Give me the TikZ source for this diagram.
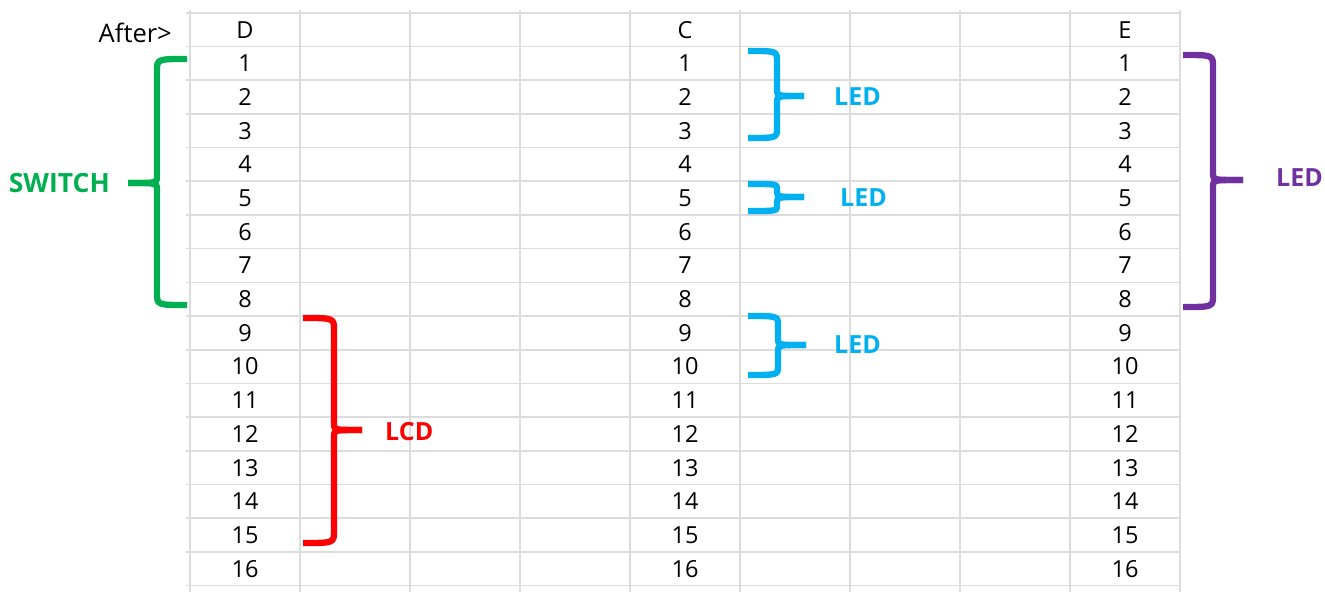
\documentclass[tikz,border=0pt]{standalone}
\usepackage{fontspec}
\setmainfont{Open Sans}
\definecolor{gridgray}{RGB}{220,220,220}
\definecolor{swgreen}{RGB}{0,176,80}
\definecolor{lcdred}{RGB}{255,0,0}
\definecolor{ledcyan}{RGB}{0,176,240}
\definecolor{ledpurple}{RGB}{112,48,160}
\newcommand\bracepath[8]{%
  % #1 colour, #2 end x, #3 top y, #4 bottom y, #5 spine x, #6 tip x, #7 mid y, #8 corner r
  \draw[bracestyle,#1] (#2,#3) .. controls (#5,#3) .. (#5,#3+#8) -- (#5,#7-6) .. controls (#5,#7) .. (#6,#7);
  \draw[bracestyle,#1] (#2,#4) .. controls (#5,#4) .. (#5,#4-#8) -- (#5,#7+6) .. controls (#5,#7) .. (#6,#7);
}
\begin{document}
\begin{tikzpicture}[x=1pt,y=-1pt,
  gridline/.style={draw=gridgray,line width=1.6pt},
  cell/.style={font=\fontsize{23.5}{28}\selectfont,text=black,inner sep=0pt},
  tag/.style={font=\fontsize{25}{30}\selectfont\bfseries,inner sep=0pt},
  bracestyle/.style={line width=6.3pt,line cap=butt,line join=round}]
\useasboundingbox (0,0) rectangle (1325,592);
\fill[white] (0,0) rectangle (1325,592);
% grid
\foreach \i in {0,...,9} {
  \draw[gridline] ({190+110*\i},10) -- ({190+110*\i},592);
}
\foreach \j in {0,...,17} {
  \draw[gridline] (186,{12.7+33.7*\j}) -- (1181,{12.7+33.7*\j});
}
% headers
\node[cell,font=\fontsize{25.5}{30}\selectfont] (after) [anchor=east] at (172,33) {After>};
\node[cell] (hD) at (245,30) {D};
\node[cell] (hC) at (685,30) {C};
\node[cell] (hE) at (1125,30) {E};
% numbers
\foreach \r in {1,...,16} {
  \node[cell] (d\r) at (245,{46.4+33.7*(\r-0.5)}) {\r};
  \node[cell] (c\r) at (685,{46.4+33.7*(\r-0.5)}) {\r};
  \node[cell] (e\r) at (1125,{46.4+33.7*(\r-0.5)}) {\r};
}
% braces
\bracepath{swgreen}{187}{59}{305}{157}{128}{183}{12}
\bracepath{lcdred}{303}{318}{543}{334}{362}{430}{12}
\bracepath{ledcyan}{748}{51}{138}{777}{804}{96}{10}
\bracepath{ledcyan}{748}{184}{211}{777}{804}{197}{5}
\bracepath{ledcyan}{748}{316}{375}{778}{806}{345}{9}
\bracepath{ledpurple}{1183}{55}{307}{1213}{1243}{180}{12}
% labels
\node[tag,text=swgreen,font=\fontsize{26.5}{30}\selectfont\bfseries] (switch) [anchor=east] at (110,183) {SWITCH};
\node[tag,text=lcdred] (lcd) [anchor=west] at (385,432) {LCD};
\node[tag,text=ledcyan] (led1) [anchor=west] at (834,97) {LED};
\node[tag,text=ledcyan] (led2) [anchor=west] at (840,198) {LED};
\node[tag,text=ledcyan] (led3) [anchor=west] at (834,345) {LED};
\node[tag,text=ledpurple] (led4) [anchor=west] at (1276,178) {LED};
\end{tikzpicture}
\end{document}
